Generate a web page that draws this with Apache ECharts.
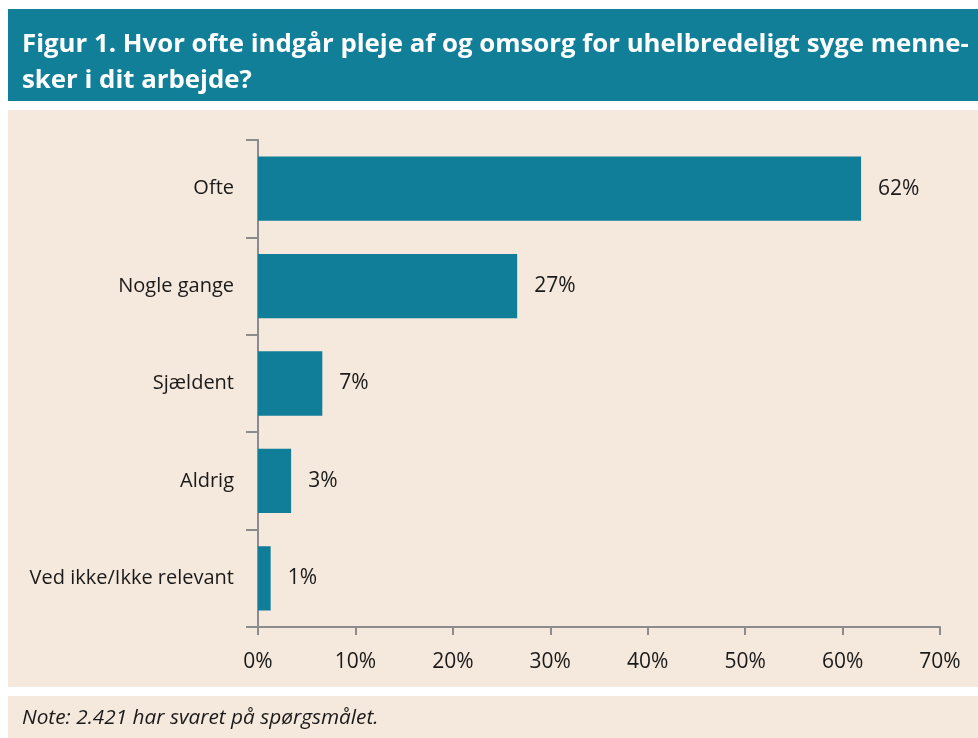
<!DOCTYPE html>
<html><head><meta charset="utf-8">
<script src="https://cdn.jsdelivr.net/npm/echarts@6/dist/echarts.min.js"></script>
<style>html,body{margin:0;padding:0;background:#fff;}#c{width:978px;height:738px;}</style>
</head><body><div id="c"></div>
<script>
const categories = ["Ofte", "Nogle gange", "Sjældent", "Aldrig", "Ved ikke/Ikke relevant"];
const values = [61.9, 26.6, 6.6, 3.4, 1.3];
const valueLabels = ["62%", "27%", "7%", "3%", "1%"];
const xTicks = [0, 10, 20, 30, 40, 50, 60, 70];
const titleLines = ["Figur 1. Hvor ofte indgår pleje af og omsorg for uhelbredeligt syge menne-", "sker i dit arbejde?"];
const noteText = "Note: 2.421 har svaret på spørgsmålet.";

const FONT = "'Open Sans'";
const TEAL = "#117e99";
const BEIGE = "#f5e8dc";
const chart = echarts.init(document.getElementById('c'), null, {renderer: 'canvas'});
chart.setOption({
  backgroundColor: '#ffffff',
  animation: false,
  graphic: [
    {type: 'rect', z: -10, shape: {x: 8, y: 9, width: 970, height: 92}, style: {fill: '#127f99'}},
    {type: 'rect', z: -10, shape: {x: 8, y: 110, width: 970, height: 577}, style: {fill: BEIGE}},
    {type: 'rect', z: -10, shape: {x: 8, y: 696, width: 970, height: 42}, style: {fill: BEIGE}},
    {type: 'text', left: 22, top: 32, style: {text: titleLines[0], fill: '#fff', font: 'bold 25.8px ' + FONT}},
    {type: 'text', left: 22, top: 68, style: {text: titleLines[1], fill: '#fff', font: 'bold 25.8px ' + FONT}},
    {type: 'text', left: 22, top: 708, style: {text: noteText, fill: '#1a1a1a', font: 'italic 20.8px ' + FONT}}
  ],
  grid: {left: 258, right: 38, top: 140, bottom: 111, containLabel: false},
  xAxis: {
    type: 'value', min: 0, max: 70, interval: 10,
    axisLine: {show: true, lineStyle: {color: '#8c8c8c', width: 2}},
    axisTick: {show: true, length: 8, lineStyle: {color: '#8c8c8c', width: 2}},
    splitLine: {show: false},
    axisLabel: {formatter: v => xTicks.includes(v) ? v + '%' : '', color: '#1a1a1a', fontSize: 21, fontFamily: FONT, margin: 25}
  },
  yAxis: {
    type: 'category', data: categories, inverse: true,
    axisLine: {show: true, lineStyle: {color: '#8c8c8c', width: 2}},
    axisTick: {show: true, length: 12, lineStyle: {color: '#8c8c8c', width: 2}},
    axisLabel: {color: '#1a1a1a', fontSize: 20, fontFamily: FONT, margin: 24}
  },
  series: [{
    type: 'bar', data: values, barCategoryGap: '34%',
    itemStyle: {color: TEAL},
    label: {show: true, position: 'right', distance: 17, color: '#1a1a1a', fontSize: 21, fontFamily: FONT,
      formatter: p => valueLabels[p.dataIndex]}
  }]
});
</script></body></html>
